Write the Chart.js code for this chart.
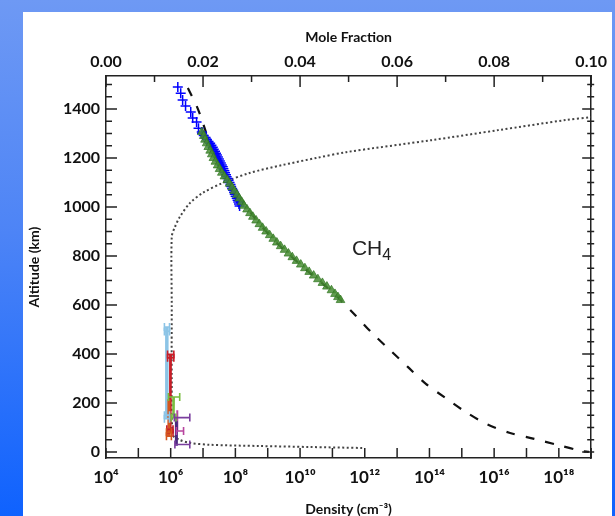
<!DOCTYPE html>
<html>
<head>
<meta charset="utf-8">
<title>CH4 profile</title>
<script src="https://cdn.jsdelivr.net/npm/chart.js@4.4.1/dist/chart.umd.min.js"></script>
<style>
  html, body { margin: 0; padding: 0; overflow: hidden; }
  body { width: 615px; height: 516px; background: linear-gradient(to bottom, #6e99f4 0%, #4d84f6 45%, #0f62fe 100%); }
  #panel { position: absolute; left: 23px; top: 12px; width: 589px; height: 504px; background: #fff; }
</style>
</head>
<body>
<div id="panel"><canvas id="myChart" width="589" height="504"></canvas></div>
<script>
// ---- data (density in cm^-3, altitude in km) ----

// blue crosses
const crossDensity = [1.66e6, 2.04e6, 2.34e6, 2.88e6, 4.17e6, 4.79e6, 6.31e6, 7.24e6, 9.12e6,
  9.33e6, 1.05e7, 1.20e7, 1.32e7, 1.48e7, 1.66e7, 1.82e7, 2.0e7, 2.14e7, 2.34e7, 2.51e7, 2.69e7,
  2.88e7, 3.09e7, 3.31e7, 3.55e7, 3.8e7, 4.07e7, 4.27e7, 4.57e7, 4.79e7, 5.13e7, 5.37e7, 5.75e7,
  6.17e7, 6.61e7, 7.08e7, 7.41e7, 7.94e7, 8.51e7, 9.12e7, 9.55e7, 1.02e8, 1.10e8, 1.17e8, 1.23e8,
  1.29e8, 1.35e8];
const crossAlt = [1490, 1465, 1437, 1412, 1388, 1363, 1347, 1322, 1306,
  1300, 1292, 1284, 1276, 1268, 1260, 1252, 1244, 1236, 1228, 1220, 1212,
  1204, 1196, 1188, 1180, 1172, 1164, 1156, 1148, 1140, 1132, 1124, 1116,
  1108, 1100, 1092, 1084, 1076, 1068, 1060, 1052, 1044, 1036, 1028, 1020,
  1012, 1004];

// green triangles
const triDensity = [9.12e6, 1.05e7, 1.15e7, 1.29e7, 1.45e7, 1.66e7, 1.86e7, 2.09e7, 2.40e7, 2.82e7,
  3.24e7, 3.80e7, 4.57e7, 5.62e7, 6.61e7, 7.94e7, 9.33e7, 1.12e8, 1.32e8, 1.58e8, 1.86e8, 2.29e8,
  2.82e8, 3.47e8, 4.37e8, 5.50e8, 6.92e8, 8.91e8, 1.15e9, 1.48e9, 1.91e9, 2.51e9, 3.31e9, 4.37e9,
  5.75e9, 7.76e9, 1.05e10, 1.41e10, 1.91e10, 2.63e10, 3.55e10, 4.90e10, 6.76e10, 9.33e10, 1.20e11,
  1.48e11, 1.78e11];
const triAlt = [1306, 1290, 1275, 1260, 1245, 1230, 1215, 1200, 1185, 1170,
  1155, 1140, 1125, 1110, 1095, 1080, 1065, 1050, 1035, 1020, 1005, 990,
  975, 960, 945, 930, 915, 900, 885, 870, 855, 840, 825, 810,
  795, 780, 765, 750, 735, 720, 705, 690, 675, 660, 645,
  632, 620];

// dashed model density
const modelDensity = [3.39e6, 6.76e6, 1.12e7, 1.66e7, 3.55e7, 1.17e8, 4.27e8, 2.04e9, 1.38e10,
  1.05e11, 1.78e11, 5.37e11, 1.66e12, 6.46e12, 2.14e13, 7.76e13, 3.16e14, 1.32e15, 5.75e15,
  2.95e16, 1.74e17, 8.91e17, 4.90e18, 8.5e18];
const modelAlt = [1486, 1404, 1322, 1250, 1150, 1050, 950, 850, 750,
  650, 620, 555, 486, 412, 347, 278, 220, 163, 114,
  78, 53, 29, 4, 0];

// dotted mole fraction (top axis)
const moleFraction = [0.0528, 0.0419, 0.0316, 0.0214, 0.0172, 0.0152, 0.0138, 0.01355, 0.01355,
  0.01355, 0.0142, 0.0152, 0.0173, 0.0199, 0.024, 0.0296, 0.0363, 0.0433, 0.0495, 0.0671, 0.0809,
  0.0947, 0.1];
const moleAlt = [16, 20, 24, 29, 37, 49, 69, 300, 600,
  878, 918, 959, 1016, 1057, 1098, 1139, 1171, 1200, 1224, 1273, 1314,
  1355, 1367];

// lower atmosphere measurements with horizontal error bars
const skyAlt = [510, 492, 150, 135];
const skyDen = [7.6e5, 7.6e5, 7.6e5, 7.6e5];
const skyLo = [6.4e5, 6.4e5, 6.4e5, 6.4e5];
const skyHi = [9.2e5, 9.2e5, 9.2e5, 9.2e5];

const redAlt = [398, 384, 92, 78];
const redDen = [1.0e6, 1.0e6, 9.6e5, 9.6e5];
const redLo = [8.0e5, 8.0e5, 7.6e5, 7.6e5];
const redHi = [1.25e6, 1.25e6, 1.18e6, 1.18e6];

const orangeAlt = [215, 80, 64];
const orangeDen = [8.8e5, 8.8e5, 8.8e5];
const orangeLo = [null, 7.4e5, 7.4e5];
const orangeHi = [null, 1.05e6, 1.05e6];

const greenAlt = [224, 212, 140];
const greenDen = [1.24e6, 1.24e6, 1.2e6];
const greenLo = [8.5e5, null, 1.05e6];
const greenHi = [1.9e6, null, 1.45e6];

const purpleAlt = [140, 100, 60, 30];
const purpleDen = [1.45e6, 1.5e6, 1.5e6, 1.45e6];
const purpleLo = [1.3e6, null, null, 1.35e6];
const purpleHi = [3.9e6, null, null, 3.9e6];

const magentaAlt = [170, 85];
const magentaDen = [1.6e6, 1.6e6];
const magentaLo = [null, 1.5e6];
const magentaHi = [null, 2.5e6];

const darkAlt = [125, 25];
const darkDen = [1.5e6, 1.5e6];

// tick labels
const altTicks = [0, 200, 400, 600, 800, 1000, 1200, 1400];
const moleTicks = [0, 0.02, 0.04, 0.06, 0.08, 0.10];
const densityTicks = [1e4, 1e6, 1e8, 1e10, 1e12, 1e14, 1e16, 1e18];
const densityLabels = ['10⁴', '10⁶', '10⁸', '10¹⁰', '10¹²', '10¹⁴', '10¹⁶', '10¹⁸'];

const pts = (xs, ys) => xs.map((x, i) => ({ x: x, y: ys[i] }));

const labelFont = { family: 'Lato', size: 16, weight: 'bold' };
const titleFont = { family: 'Lato', size: 14, weight: 'bold', lineHeight: 1 };
const axisBorder = { color: '#222', width: 1.5 };

function errSet(label, color, width, den, alt, lo, hi, order) {
  return {
    label: label, data: pts(den, alt), errLo: lo, errHi: hi,
    showLine: true, borderColor: color, backgroundColor: color, borderWidth: width,
    pointRadius: 0, order: order
  };
}

// inward tick marks on all four sides
const tickMarks = {
  id: 'tickMarks',
  afterDraw(chart) {
    const { ctx, chartArea: a, scales: s } = chart;
    ctx.save();
    ctx.strokeStyle = '#222';
    ctx.lineWidth = 1.5;
    ctx.beginPath();
    s.y.ticks.forEach(t => {
      const y = s.y.getPixelForValue(t.value);
      const len = altTicks.includes(t.value) ? 11 : 6;
      ctx.moveTo(a.left, y); ctx.lineTo(a.left + len, y);
      ctx.moveTo(a.right + 3, y); ctx.lineTo(a.right - len + 2, y);
    });
    s.x2.ticks.forEach(t => {
      const x = s.x2.getPixelForValue(t.value);
      const len = moleTicks.some(m => Math.abs(m - t.value) < 1e-9) ? 11 : 6;
      ctx.moveTo(x, a.top); ctx.lineTo(x, a.top + len);
    });
    s.x.ticks.forEach(t => {
      const x = s.x.getPixelForValue(t.value);
      ctx.moveTo(x, a.bottom); ctx.lineTo(x, a.bottom - 10);
    });
    ctx.stroke();
    ctx.restore();
  }
};

// horizontal error bars with caps
const errorBars = {
  id: 'errorBars',
  afterDatasetsDraw(chart) {
    const { ctx } = chart;
    chart.data.datasets.forEach((ds, i) => {
      if (!ds.errLo) return;
      const meta = chart.getDatasetMeta(i);
      const xs = chart.scales[meta.xAxisID];
      ctx.save();
      ctx.strokeStyle = ds.borderColor;
      ctx.lineWidth = 1.6;
      ds.errLo.forEach((lo, j) => {
        if (lo == null) return;
        const y = meta.data[j].y;
        const x1 = xs.getPixelForValue(lo), x2 = xs.getPixelForValue(ds.errHi[j]);
        ctx.beginPath();
        ctx.moveTo(x1, y); ctx.lineTo(x2, y);
        ctx.moveTo(x1, y - 4); ctx.lineTo(x1, y + 4);
        ctx.moveTo(x2, y - 4); ctx.lineTo(x2, y + 4);
        ctx.stroke();
      });
      ctx.restore();
    });
  }
};

// CH4 label placed in data coordinates
const ch4Label = {
  id: 'ch4Label',
  afterDraw(chart) {
    const { ctx, scales: s } = chart;
    const x = s.x.getPixelForValue(4e11), y = s.y.getPixelForValue(804);
    ctx.save();
    ctx.fillStyle = '#222';
    ctx.textBaseline = 'alphabetic';
    ctx.font = '21px "Liberation Sans", Arial, sans-serif';
    ctx.fillText('CH', x, y);
    const w = ctx.measureText('CH').width;
    ctx.font = '16px "Liberation Sans", Arial, sans-serif';
    ctx.fillText('4', x + w, y + 5);
    ctx.restore();
  }
};

const ctx = document.getElementById('myChart').getContext('2d');

const data = {
  datasets: [
    {
      label: 'triangles', data: pts(triDensity, triAlt), order: 1,
      pointStyle: 'triangle', pointRadius: 5, borderWidth: 0.8,
      backgroundColor: 'rgba(70,140,50,0.85)', borderColor: 'rgba(50,120,35,0.9)'
    },
    {
      label: 'crosses', data: pts(crossDensity, crossAlt), order: 2,
      pointStyle: 'cross', pointRadius: 5, borderWidth: 1.5, borderColor: '#0000ff'
    },
    {
      label: 'model', data: pts(modelDensity, modelAlt), order: 3, showLine: true,
      borderColor: '#111', borderWidth: 2.2, borderDash: [9, 11], pointRadius: 0, tension: 0.3
    },
    {
      label: 'mole fraction', data: pts(moleFraction, moleAlt), xAxisID: 'x2', order: 4, showLine: true,
      borderColor: '#444', borderWidth: 2, borderDash: [2, 2.5], pointRadius: 0, tension: 0.3
    },
    errSet('sky', '#8cc4e6', 3.5, skyDen, skyAlt, skyLo, skyHi, 0.7),
    errSet('red', '#c81e28', 2.5, redDen, redAlt, redLo, redHi, 0.6),
    errSet('orange', '#d4561e', 3, orangeDen, orangeAlt, orangeLo, orangeHi, 0.5),
    errSet('green', '#79bd3f', 2.5, greenDen, greenAlt, greenLo, greenHi, 0.4),
    errSet('magenta', '#b8459f', 2, magentaDen, magentaAlt, magentaLo, magentaHi, 0.3),
    errSet('purple', '#7a3e9e', 2, purpleDen, purpleAlt, purpleLo, purpleHi, 0.2),
    errSet('dark', '#4b2a7f', 3, darkDen, darkAlt, null, null, 0.1)
  ]
};

const config = {
  type: 'scatter',
  data: data,
  options: {
    responsive: false,
    animation: false,
    layout: { padding: 0 },
    plugins: { legend: { display: false }, tooltip: { enabled: false } },
    scales: {
      x: {
        type: 'logarithmic', position: 'bottom', min: 1e4, max: 1e19,
        afterBuildTicks: scale => {
          const t = [];
          for (let e = 4; e <= 19; e++) t.push({ value: Math.pow(10, e) });
          scale.ticks = t;
        },
        afterFit: scale => { scale.height = 58; },
        grid: { display: false, drawTicks: false },
        border: axisBorder,
        ticks: {
          autoSkip: false, maxRotation: 0, padding: 9, color: '#111',
          font: { family: 'Lato', size: 17, weight: 'bold' },
          callback: v => {
            const k = densityTicks.findIndex(t => Math.abs(Math.log10(t) - Math.log10(v)) < 1e-6);
            return k >= 0 ? densityLabels[k] : '';
          }
        },
        title: { display: true, text: 'Density (cm⁻³)', color: '#111', font: titleFont, padding: { bottom: 0 } }
      },
      x2: {
        type: 'linear', position: 'top', min: 0, max: 0.1,
        afterFit: scale => { scale.height = 64; },
        grid: { display: false, drawTicks: false },
        border: axisBorder,
        ticks: {
          stepSize: 0.01, autoSkip: false, maxRotation: 0, padding: 5, color: '#111', font: labelFont,
          callback: v => {
            const m = moleTicks.find(t => Math.abs(t - v) < 1e-9);
            return m === undefined ? '' : m.toFixed(2);
          }
        },
        title: { display: true, text: 'Mole Fraction', color: '#111', font: titleFont, padding: { top: 18 } }
      },
      y: {
        type: 'linear', position: 'left', min: -25, max: 1535,
        afterFit: scale => { scale.width = 83; },
        grid: { display: false, drawTicks: false },
        border: axisBorder,
        ticks: {
          stepSize: 50, includeBounds: false, autoSkip: false, padding: 6, color: '#111', font: labelFont,
          callback: v => altTicks.includes(v) ? String(v) : ''
        },
        title: { display: true, text: 'Altitude (km)', color: '#111', font: titleFont, padding: { top: 4 } }
      },
      y2: {
        type: 'linear', position: 'right', min: -25, max: 1535,
        afterFit: scale => { scale.width = 19; },
        grid: { display: false, drawTicks: false },
        border: axisBorder,
        ticks: { display: false, stepSize: 50, includeBounds: false, autoSkip: false }
      }
    }
  },
  plugins: [tickMarks, errorBars, ch4Label]
};

const myChart = new Chart(ctx, config);
</script>
</body>
</html>
